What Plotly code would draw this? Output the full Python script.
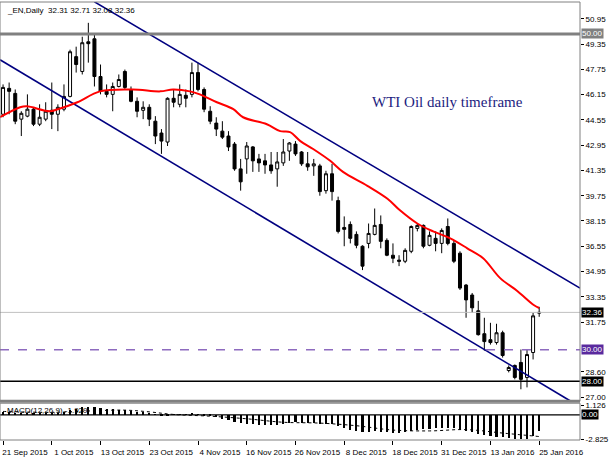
import plotly.graph_objects as go

# daily WTI candles, bar 0 = 21 Sep 2015, last bar = 25 Jan 2016
opens = [44.91, 46.55, 46.23, 44.60, 44.79, 45.23, 44.28, 44.60, 45.16, 44.91,
         45.23, 46.04, 48.56, 47.62, 49.50, 49.69, 47.30, 46.36, 46.17, 46.67,
         47.62, 46.48, 45.73, 45.16, 45.35, 44.47, 43.72, 43.15, 45.92, 45.54,
         46.11, 46.17, 47.55, 46.48, 45.10, 44.35, 43.84, 43.53, 43.02, 41.45,
         42.08, 42.84, 42.08, 41.96, 41.70, 41.45, 41.83, 42.58, 43.02, 42.52,
         41.77, 41.64, 41.64, 40.07, 41.14, 39.44, 37.74, 37.93, 37.30, 36.55,
         36.73, 37.30, 37.93, 36.92, 35.98, 35.67, 35.60, 36.23, 37.68, 37.87,
         36.61, 37.05, 36.73, 37.80, 36.73, 36.11, 34.09, 33.46, 32.46, 31.01,
         30.63, 30.45, 31.07, 28.68, 29.00, 29.19, 28.24, 29.82, 32.31]
highs = [46.80, 46.92, 46.48, 45.10, 46.17, 45.35, 45.54, 45.67, 46.92, 45.54,
         46.80, 49.00, 49.19, 49.82, 50.70, 49.94, 48.06, 46.80, 46.92, 47.43,
         47.74, 46.67, 45.98, 45.73, 45.54, 44.79, 43.97, 45.98, 46.48, 46.80,
         46.48, 48.18, 48.18, 46.61, 45.42, 44.72, 44.47, 43.84, 43.15, 42.08,
         43.15, 42.90, 42.40, 42.40, 42.52, 42.52, 43.34, 43.15, 43.21, 42.58,
         42.52, 42.08, 41.77, 41.33, 41.77, 39.69, 38.44, 38.12, 37.49, 36.61,
         37.99, 38.94, 38.50, 37.05, 36.73, 35.98, 36.42, 37.87, 37.99, 37.93,
         37.49, 37.49, 37.68, 38.31, 36.92, 36.23, 34.16, 33.59, 33.09, 32.02,
         31.70, 31.64, 31.20, 29.00, 29.06, 30.01, 30.01, 32.33, 32.71]
lows = [44.72, 44.91, 44.28, 43.53, 44.72, 44.16, 44.16, 44.47, 43.97, 43.84,
        45.10, 45.98, 47.55, 47.43, 48.18, 46.67, 46.17, 45.98, 45.10, 46.61,
        46.48, 45.67, 44.72, 44.60, 44.16, 43.02, 42.40, 42.90, 45.35, 45.35,
        45.35, 45.98, 46.36, 45.04, 44.28, 43.53, 43.34, 42.58, 41.33, 40.07,
        41.14, 41.26, 41.26, 41.14, 41.14, 40.32, 41.64, 41.96, 42.27, 41.64,
        41.33, 41.01, 39.75, 39.88, 39.44, 37.36, 36.55, 36.73, 36.42, 35.04,
        36.42, 37.24, 36.42, 35.92, 35.48, 35.29, 35.48, 36.11, 37.49, 36.42,
        36.55, 36.23, 36.11, 36.61, 35.48, 33.78, 32.02, 32.33, 30.89, 29.94,
        30.32, 30.32, 29.50, 28.56, 28.12, 27.49, 27.61, 29.38, 32.08]
closes = [46.61, 46.36, 44.47, 44.97, 45.23, 44.28, 44.72, 45.10, 44.91, 45.35,
          46.04, 48.87, 48.06, 49.44, 49.38, 47.30, 46.36, 46.17, 46.67, 47.11,
          46.61, 45.73, 45.10, 45.35, 44.60, 43.53, 43.21, 45.92, 45.67, 46.17,
          45.92, 47.55, 46.48, 45.23, 44.47, 43.97, 43.46, 42.84, 41.45, 40.63,
          42.90, 41.96, 41.83, 41.70, 41.33, 41.89, 42.52, 43.09, 42.40, 41.77,
          41.58, 41.77, 40.01, 41.14, 40.01, 37.49, 37.62, 37.05, 36.61, 35.29,
          37.36, 37.87, 36.86, 35.98, 35.79, 35.60, 36.29, 37.80, 37.87, 36.55,
          37.24, 36.73, 37.55, 36.73, 35.60, 33.90, 33.15, 32.65, 30.95, 30.51,
          30.45, 31.07, 29.63, 28.87, 28.24, 28.12, 29.69, 32.14, 32.36]
bars = list(range(len(closes)))

# red moving average at a few bars
ma_x = [-0.5, 2.8, 3.9, 7.7, 9.0, 12.2, 15.9, 21.3, 25.8, 27.9, 30.7, 32.3,
        35.1, 37.8, 39.4, 43.3, 45.5, 47.1, 48.8, 50.9, 53.7, 55.8, 59.8,
        63.1, 65.2, 68.0, 70.6, 73.4, 76.2, 78.8, 81.6, 84.4, 87.1, 88.0]
ma_y = [44.72, 45.35, 45.41, 45.10, 45.23, 45.67, 46.36, 46.48, 46.36, 46.48,
        46.36, 46.17, 45.67, 45.23, 44.72, 44.28, 43.84, 43.78, 43.21, 42.71,
        41.96, 41.26, 40.38, 39.56, 38.81, 37.99, 37.49, 37.05, 36.42, 35.79,
        34.53, 33.72, 32.83, 32.64]

# trend channel
upper_x = [15.0, 94.7]
upper_y = [52.03, 33.90]
lower_x = [-0.5, 93.2]
lower_y = [48.36, 26.73]

# MACD(12,26,9)
macd_hist = [0.30, 0.30, 0.22, 0.18, 0.15, 0.12, 0.10, 0.10, 0.10, 0.15, 0.28, 0.55,
             0.70, 0.85, 0.92, 0.88, 0.78, 0.68, 0.60, 0.55, 0.50, 0.42, 0.32, 0.26,
             0.12, 0.02, -0.10, -0.05, -0.02, 0.02, 0.05, 0.10, 0.05, -0.05, -0.18, -0.30,
             -0.45, -0.60, -0.80, -0.98, -1.05, -1.10, -1.15, -1.18, -1.22, -1.15, -1.05, -0.92,
             -0.88, -0.92, -0.95, -0.98, -1.08, -1.05, -1.10, -1.35, -1.55, -1.72, -1.85, -2.00,
             -1.98, -1.90, -1.95, -2.02, -2.08, -2.10, -2.02, -1.88, -1.72, -1.68, -1.62, -1.58,
             -1.52, -1.48, -1.52, -1.72, -1.90, -2.02, -2.22, -2.38, -2.48, -2.52, -2.58, -2.70,
             -2.76, -2.82, -2.80, -2.45, -1.93]
signal_x = [0, 8, 14, 20, 24, 28, 34, 40, 46, 52, 58, 64, 70, 76, 82, 88]
signal_y = [0.40, 0.30, 0.45, 0.55, 0.35, 0.05, -0.15, -0.45, -0.85, -0.95,
            -1.25, -1.75, -1.85, -1.70, -2.10, -2.50]

price_ticks = [50.95, 49.35, 47.75, 46.15, 44.55, 42.95, 41.35, 39.75,
               38.15, 36.55, 34.95, 33.35, 31.75, 28.60, 27.00]
macd_ticks = [1.126, -2.825]
date_ticks = [0, 8, 16, 24, 32, 40, 48, 56, 64, 72, 80, 88]
date_labels = ["21 Sep 2015", "1 Oct 2015", "13 Oct 2015", "23 Oct 2015",
               "4 Nov 2015", "16 Nov 2015", "26 Nov 2015", "8 Dec 2015",
               "18 Dec 2015", "31 Dec 2015", "13 Jan 2016", "25 Jan 2016"]

level_50 = 50.00
level_bid = 32.36
level_30 = 30.00
level_28 = 28.00

font = "Liberation Sans"

fig = go.Figure()

fig.add_trace(go.Scatter(x=upper_x, y=upper_y, mode="lines",
                         line=dict(color="#000080", width=1.6), yaxis="y"))
fig.add_trace(go.Scatter(x=lower_x, y=lower_y, mode="lines",
                         line=dict(color="#000080", width=1.6), yaxis="y"))

fig.add_trace(go.Candlestick(
    x=bars, open=opens, high=highs, low=lows, close=closes,
    increasing=dict(line=dict(color="black", width=1), fillcolor="white"),
    decreasing=dict(line=dict(color="black", width=1), fillcolor="black"),
    whiskerwidth=0, yaxis="y",
))

fig.add_trace(go.Scatter(x=ma_x, y=ma_y, mode="lines", line_shape="spline",
                         line=dict(color="#ff0000", width=2), yaxis="y"))

# MACD window
fig.add_trace(go.Bar(x=bars, y=macd_hist, width=0.35, marker_color="black",
                     marker_line_width=0, yaxis="y2"))
fig.add_trace(go.Scatter(x=signal_x, y=signal_y, mode="lines", line_shape="spline",
                         line=dict(color="black", width=1, dash="dot"), yaxis="y2"))

shapes = [
    dict(type="line", xref="paper", x0=0, x1=1, yref="y", y0=level_bid, y1=level_bid,
         line=dict(color="#c0c0c0", width=1)),
    dict(type="line", xref="paper", x0=0, x1=1, yref="y", y0=level_50, y1=level_50,
         line=dict(color="#808080", width=3)),
    dict(type="line", xref="paper", x0=0, x1=1, yref="y", y0=level_30, y1=level_30,
         line=dict(color="#8e6bbf", width=1.5, dash="dash")),
    dict(type="line", xref="paper", x0=0, x1=1, yref="y", y0=level_28, y1=level_28,
         line=dict(color="black", width=1.5)),
    dict(type="line", xref="paper", x0=0, x1=1, yref="y2", y0=0, y1=0,
         line=dict(color="black", width=1.2)),
    dict(type="rect", xref="paper", x0=0, x1=1, yref="y domain", y0=0, y1=1,
         line=dict(color="#808080", width=1)),
    dict(type="line", xref="paper", x0=0, x1=1, yref="y domain", y0=0, y1=0,
         line=dict(color="#808080", width=3)),
    dict(type="rect", xref="paper", x0=0, x1=1, yref="y2 domain", y0=0, y1=1,
         line=dict(color="#808080", width=1)),
]


def price_box(value, text, bg, yref="y"):
    return dict(xref="paper", x=1, xanchor="left", xshift=1, yref=yref, y=value,
                text=text, showarrow=False, bgcolor=bg, borderpad=0,
                font=dict(family=font, size=8, color="white"))


annotations = [
    price_box(level_50, "50.00", "#808080"),
    price_box(level_bid, "32.36", "black"),
    price_box(level_30, "30.00", "#5a2a9e"),
    price_box(level_28, "28.00", "black"),
    price_box(0, "0.00", "black", yref="y2"),
    dict(xref="paper", x=0.008, xanchor="left", yref="y domain", y=1, yanchor="top",
         yshift=-2, text="_EN,Daily  32.31 32.71 32.08 32.36", showarrow=False,
         font=dict(family=font, size=8, color="black")),
    dict(xref="paper", x=0.008, xanchor="left", yref="y2 domain", y=1, yanchor="top",
         yshift=-1, text="MACD(12,26,9) -1.929", showarrow=False,
         font=dict(family=font, size=8, color="black")),
    dict(xref="x", x=60.3, xanchor="left", yref="y", y=45.67,
         text="WTI Oil daily timeframe", showarrow=False,
         font=dict(family="Liberation Serif", size=15, color="#1c1c80")),
]

fig.update_layout(
    width=610, height=457,
    margin=dict(l=0, r=30, t=2, b=14),
    paper_bgcolor="white", plot_bgcolor="white",
    showlegend=False,
    bargap=0,
    shapes=shapes,
    annotations=annotations,
    xaxis=dict(
        range=[-0.5, 94.7], anchor="y2", rangeslider=dict(visible=False),
        tickvals=date_ticks, ticktext=date_labels, ticks="outside", ticklen=4,
        tickcolor="black", ticklabelshift=22, showgrid=False, zeroline=False,
        tickfont=dict(family=font, size=8, color="black"),
    ),
    yaxis=dict(
        domain=[0.0884, 1], range=[26.73, 52.02], side="right",
        tickvals=price_ticks, ticktext=[f"{v:.2f}" for v in price_ticks],
        ticks="outside", ticklen=3, tickcolor="black", showgrid=False, zeroline=False,
        tickfont=dict(family=font, size=8, color="black"),
    ),
    yaxis2=dict(
        domain=[0, 0.084], range=[-2.9, 1.35], side="right", anchor="x",
        tickvals=macd_ticks, ticktext=["1.126", "-2.825"],
        ticks="outside", ticklen=3, tickcolor="black", showgrid=False, zeroline=False,
        tickfont=dict(family=font, size=8, color="black"),
    ),
)

fig.write_html("out.html", config={"displayModeBar": False},
               post_script="document.body.style.margin='0';")
